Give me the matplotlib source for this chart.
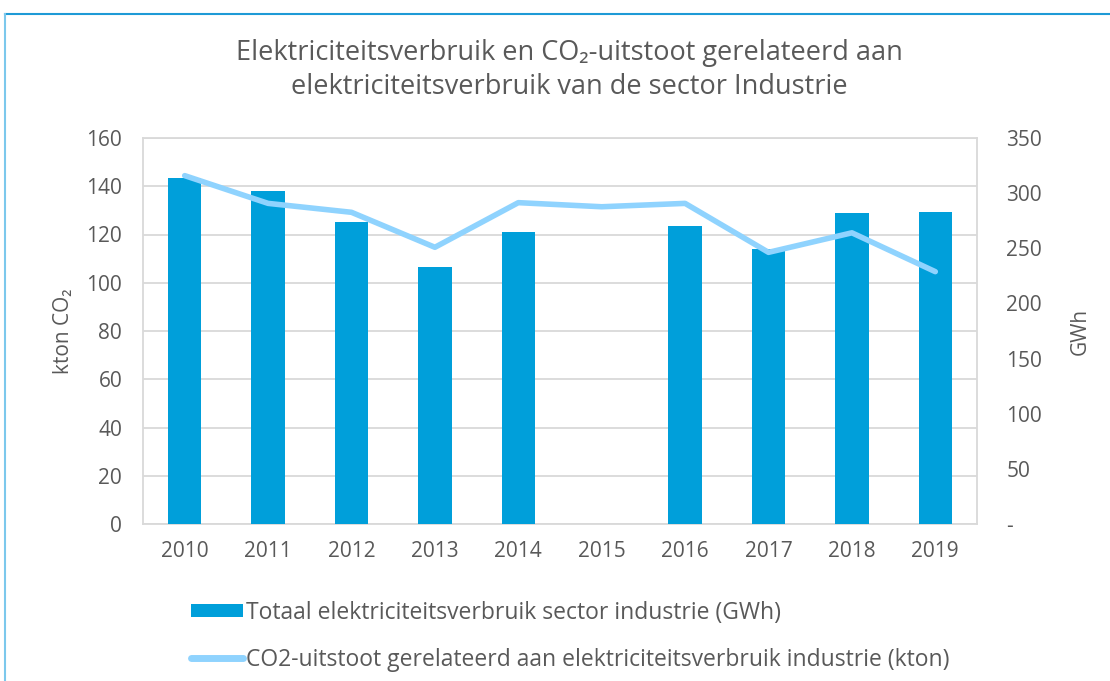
import matplotlib
matplotlib.use("Agg")
import matplotlib.pyplot as plt
from matplotlib.lines import Line2D
from matplotlib.patches import Patch
from matplotlib.ticker import FuncFormatter, MultipleLocator

years = ["2010", "2011", "2012", "2013", "2014", "2015", "2016", "2017", "2018", "2019"]
gwh = [313.5, 301.9, 273.5, 232.8, 264.8, None, 270.0, 249.4, 281.7, 282.6]
kton = [144.4, 132.9, 129.2, 114.7, 133.2, 131.5, 132.9, 112.6, 120.7, 104.6]

title = "Elektriciteitsverbruik en CO\u2082-uitstoot gerelateerd aan\nelektriciteitsverbruik van de sector Industrie"
label_bar = "Totaal elektriciteitsverbruik sector industrie (GWh)"
label_line = "CO2-uitstoot gerelateerd aan elektriciteitsverbruik industrie (kton)"

plt.rcParams['font.family'] = ['Open Sans', 'DejaVu Sans']
TXT = "#595959"
GRID = "#D9D9D9"
BAR = "#009FDA"
LINE = "#8FD3FE"
FS = 15

fig = plt.figure(figsize=(11.10, 6.81), dpi=100)
pos = [143/1110, 1 - 524/681, (977-143)/1110, (524-138)/681]

# background axes: left kton scale with gridlines
axg = fig.add_axes(pos)
axg.set_ylim(0, 160)
axg.yaxis.set_major_locator(MultipleLocator(20))
axg.grid(axis='y', color=GRID, linewidth=1.3)
axg.set_axisbelow(True)
x = list(range(len(years)))
axg.set_xlim(-0.5, len(years) - 0.5)
axg.set_xticks(x)
axg.set_xticklabels(years)
axg.tick_params(axis='both', length=0, labelsize=FS, colors=TXT)
axg.tick_params(axis='y', pad=15)
axg.tick_params(axis='x', pad=12)
axg.set_ylabel("kton CO\u2082", color=TXT, fontsize=FS, labelpad=9)
for s in axg.spines.values():
    s.set_color(GRID)
    s.set_linewidth(1.3)

# bars on right GWh scale
axb = axg.twinx()
bx = [i for i, v in zip(x, gwh) if v is not None]
bv = [v for v in gwh if v is not None]
axb.bar(bx, bv, width=0.4, color=BAR, zorder=2)
axb.set_ylim(0, 350)
axb.yaxis.set_major_locator(MultipleLocator(50))
axb.yaxis.set_major_formatter(FuncFormatter(lambda v, p: "-" if v == 0 else f"{int(v)}"))
axb.tick_params(axis='y', length=0, labelsize=FS, colors=TXT, pad=21)
axb.set_ylabel("GWh", color=TXT, fontsize=FS, labelpad=20)
for s in axb.spines.values():
    s.set_visible(False)

# line on kton scale, on top
axl = axg.twinx()
axl.plot(x, kton, color=LINE, linewidth=4, solid_capstyle='round', solid_joinstyle='round', zorder=3)
axl.set_ylim(0, 160)
axl.set_yticks([])
for s in axl.spines.values():
    s.set_visible(False)

fig.text(569/1110, 1 - 70/681, title, ha='center', va='center', fontsize=19.5,
         color=TXT, linespacing=1.3)

handles = [Patch(facecolor=BAR, edgecolor='none'),
           Line2D([0], [0], color=LINE, linewidth=5, solid_capstyle='round')]
leg = fig.legend(handles, [label_bar, label_line], loc='upper left',
                 bbox_to_anchor=(170/1110, 1 - 580/681), frameon=False,
                 fontsize=16.5, handlelength=2.3, handleheight=0.55,
                 handletextpad=0.1, labelspacing=1.0, labelcolor=TXT)

# screenshot frame lines
fig.add_artist(Line2D([5/1110, 1], [1 - 14/681, 1 - 14/681], color="#1E9AD6", linewidth=1.5))
fig.add_artist(Line2D([5/1110, 5/1110], [0, 1 - 14/681], color="#7CC8EC", linewidth=1.5))

fig.savefig("out.png", dpi=100, facecolor='white')
